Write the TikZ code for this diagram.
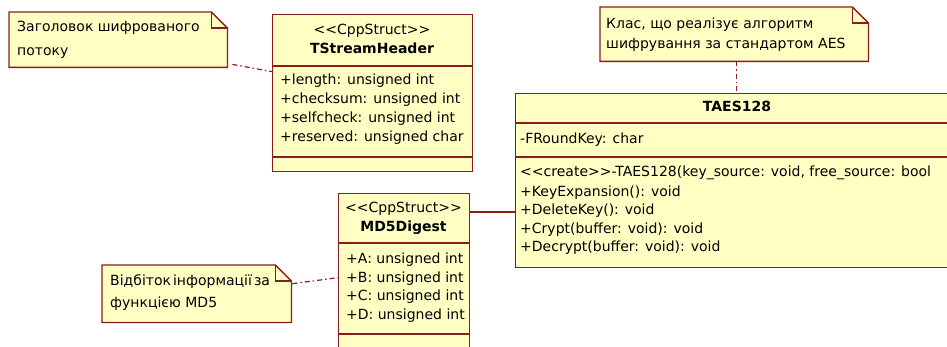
\documentclass[tikz,border=0pt]{standalone}
\usepackage{fontspec}
\usetikzlibrary{calc}
\newfontfamily\umlfont{DejaVu Sans}
\definecolor{umlfill}{RGB}{255,255,196}
\definecolor{umlline}{RGB}{140,28,28}

% outline of a UML note with a folded top-right corner
\newcommand\umlnote[1]{%
  \draw[noteline, fill=umlfill] (#1.north west) -- ([xshift=-16pt]#1.north east)
    -- ([yshift=-16pt]#1.north east) -- (#1.south east) -- (#1.south west) -- cycle;
  \draw[noteline] ([xshift=-16pt]#1.north east) -- ([xshift=-16pt,yshift=-16pt]#1.north east)
    -- ([yshift=-16pt]#1.north east);}

\begin{document}
\begin{tikzpicture}[x=1pt,y=-1pt,
  every node/.style={font=\umlfont\fontsize{14}{17}\selectfont, inner sep=0pt,
    text height=10pt, text depth=3pt},
  umlbox/.style={draw=umlline, fill=umlfill, line width=1.3pt, rectangle,
    anchor=north west},
  notebox/.style={rectangle, anchor=north west},
  noteline/.style={draw=umlline, line width=1.3pt},
  sepline/.style={draw=umlline, line width=1.3pt},
  member/.style={anchor=west},
  cname/.style={font=\umlfont\bfseries\fontsize{14}{17}\selectfont},
  notelink/.style={draw=umlline, line width=1.2pt, dash pattern=on 5pt off 3pt on 1.5pt off 3pt},
  assoc/.style={draw=umlline, line width=1.3pt}]

\useasboundingbox (0,0) rectangle (947,347);
\fill[white] (0,0) rectangle (947,347);
\clip (0,0) rectangle (947,347);

% ---- struct TStreamHeader ----
\node[umlbox, minimum width=200pt, minimum height=157pt] (hdr) at (272,14) {};
\draw[sepline] ($(hdr.north west)+(0,52)$) -- ($(hdr.north east)+(0,52)$);
\draw[sepline] ($(hdr.north west)+(0,143)$) -- ($(hdr.north east)+(0,143)$);
\node (hdrst) at (372,31) {<<CppStruct>>};
\node[cname] (hdrnm) at (372,50) {TStreamHeader};
\node[member] (hdra1) at (280,81) {+length: unsigned int};
\node[member] (hdra2) at (280,100) {+checksum: unsigned int};
\node[member] (hdra3) at (280,119) {+selfcheck: unsigned int};
\node[member] (hdra4) at (280,138) {+reserved: unsigned char};

% ---- struct MD5Digest ----
\node[umlbox, minimum width=131pt, minimum height=170pt] (md5) at (338,193) {};
\draw[sepline] ($(md5.north west)+(0,50)$) -- ($(md5.north east)+(0,50)$);
\draw[sepline] ($(md5.north west)+(0,141)$) -- ($(md5.north east)+(0,141)$);
\node (md5st) at (403.5,209) {<<CppStruct>>};
\node[cname] (md5nm) at (403.5,228) {MD5Digest};
\node[member] (md5a1) at (346,260) {+A: unsigned int};
\node[member] (md5a2) at (346,279) {+B: unsigned int};
\node[member] (md5a3) at (346,297) {+C: unsigned int};
\node[member] (md5a4) at (346,316) {+D: unsigned int};

% ---- class TAES128 (runs on past the right edge) ----
\node[umlbox, minimum width=480pt, minimum height=174pt] (aes) at (515,93) {};
\draw[sepline] ($(aes.north west)+(0,30)$) -- ($(aes.north east)+(0,30)$);
\draw[sepline] ($(aes.north west)+(0,64)$) -- ($(aes.north east)+(0,64)$);
\node[cname] (aesnm) at (737,108) {TAES128};
\node[member] (aesa1) at (520,140) {-FRoundKey: char};
\node[member] (aeso1) at (520,173) {<<create>>-TAES128(key\_source: void, free\_source: bool};
\node[member] (aeso2) at (520,193) {+KeyExpansion(): void};
\node[member] (aeso3) at (520,211) {+DeleteKey(): void};
\node[member] (aeso4) at (520,230) {+Crypt(buffer: void): void};
\node[member] (aeso5) at (520,248) {+Decrypt(buffer: void): void};

% ---- notes ----
\node[notebox, minimum width=218pt, minimum height=55pt] (n1) at (9,12) {};
\umlnote{n1}
\node[member] (n1t1) at (17,28) {Заголовок шифрованого};
\node[member] (n1t2) at (17,52) {потоку};

\node[notebox, minimum width=268pt, minimum height=54pt] (n2) at (600,7) {};
\umlnote{n2}
\node[member] (n2t1) at (606,25) {Клас, що реалізує алгоритм};
\node[member] (n2t2) at (606,45) {шифрування за стандартом AES};

\node[notebox, minimum width=189pt, minimum height=57pt] (n3) at (102,265) {};
\umlnote{n3}
\node[member] (n3t1) at (110,282) {\spaceskip=2pt Відбіток інформації за};
\node[member] (n3t2) at (110,304) {функцією MD5};

% ---- connectors ----
\draw[notelink] ([xshift=5pt,yshift=3pt]n1.south east) -- ([yshift=21.5pt]hdr.west);
\coordinate (n2foot) at ([xshift=2pt]n2.south);
\draw[notelink] (n2foot) -- (n2foot |- aes.north);
\draw[notelink] ([xshift=1pt,yshift=10pt]n3.east) -- ([yshift=1pt]md5.west);
\coordinate (mlink) at ([yshift=-19pt]md5.north east);
\draw[assoc] (mlink) -- (mlink -| aes.west);
\end{tikzpicture}
\end{document}
